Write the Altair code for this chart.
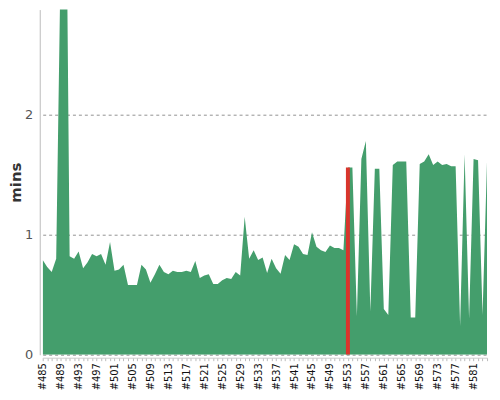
import altair as alt
import pandas as pd

builds = [f"#{n}" for n in range(485, 585)]
minutes = [
    0.79, 0.73, 0.69, 0.80, 3.30, 5.00, 0.82, 0.80, 0.86, 0.72,
    0.77, 0.84, 0.82, 0.84, 0.75, 0.94, 0.70, 0.71, 0.75, 0.58,
    0.58, 0.58, 0.75, 0.71, 0.60, 0.67, 0.75, 0.69, 0.67, 0.70,
    0.69, 0.69, 0.70, 0.69, 0.78, 0.64, 0.66, 0.67, 0.59, 0.59,
    0.62, 0.64, 0.63, 0.69, 0.66, 1.15, 0.80, 0.87, 0.79, 0.81,
    0.68, 0.80, 0.72, 0.675, 0.83, 0.79, 0.92, 0.90, 0.84, 0.83,
    1.02, 0.90, 0.87, 0.855, 0.91, 0.89, 0.89, 0.87, 1.56, 1.56,
    0.32, 1.63, 1.78, 0.36, 1.55, 1.55, 0.38, 0.33, 1.58, 1.61,
    1.61, 1.61, 0.31, 0.31, 1.59, 1.61, 1.67, 1.58, 1.61, 1.58,
    1.59, 1.57, 1.57, 0.24, 1.67, 0.30, 1.63, 1.62, 0.33, 1.62,
]
highlight_builds = ["#553"]

df = pd.DataFrame({"build": builds, "mins": minutes})

FONT = "DejaVu Sans"
xscale = alt.Scale(type="point", padding=0, domain=builds)
yscale = alt.Scale(domain=[0, 2.876], nice=False, zero=True)

label_expr = "(toNumber(substring(datum.value, 1)) - 485) % 4 == 0 ? datum.value : ''"

x_axis = alt.Axis(
    title=None, labelAngle=-90, labelExpr=label_expr, labelOverlap=False,
    labelFont=FONT, labelFontSize=10, labelColor="#111", labelPadding=2,
    tickColor="#bbb", tickSize=3, domainColor="#ccc", offset=3, grid=False,
    labelBaseline="middle", labelAlign="right",
)
y_axis = alt.Axis(
    title="mins", values=[0, 1, 2], format="d", grid=True,
    gridDash=[3, 3], gridColor="#777", gridWidth=0.8,
    ticks=False, tickSize=0, domainColor="#bbb", offset=3,
    labelFont=FONT, labelFontSize=13, labelColor="#555", labelPadding=7,
    titleFont=FONT, titleFontSize=15, titleColor="#333", titleFontWeight="bold",
    titlePadding=1,
)

base = alt.Chart(df).encode(
    x=alt.X("build:O", scale=xscale, axis=x_axis, sort=builds),
    y=alt.Y("mins:Q", scale=yscale, axis=y_axis),
)

area = base.mark_area(color="#449e6c", clip=True, opacity=1)
bar = base.mark_bar(color="#d9352c", size=4, clip=True).transform_filter(
    alt.FieldOneOfPredicate(field="build", oneOf=highlight_builds)
)

chart = alt.layer(area, bar).properties(
    width=448, height=348, padding=0,
).configure_view(stroke=None)

chart.save("out.html", embed_options={"renderer": "svg", "actions": False})
